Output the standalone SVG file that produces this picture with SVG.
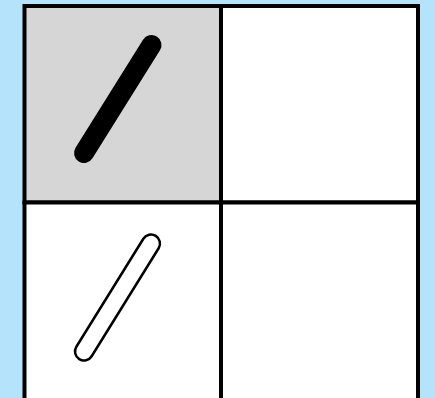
<svg xmlns="http://www.w3.org/2000/svg" width="435" height="398" viewBox="0 0 435 398">
  <defs>
    <style>
      .cell { stroke: #000; stroke-width: 4; }
      .stroke { stroke-linecap: round; fill: none; }
    </style>
  </defs>
  <rect x="0" y="0" width="435" height="398" fill="#b5e3fb"/>
  <g id="cell-top-left"><rect class="cell" x="24.5" y="6" width="196.5" height="196.5" fill="#d6d6d6"/></g>
  <g id="cell-top-right"><rect class="cell" x="221" y="6" width="197" height="196.5" fill="#fff"/></g>
  <g id="cell-bottom-left"><rect class="cell" x="24.5" y="202.5" width="196.5" height="200" fill="#fff"/></g>
  <g id="cell-bottom-right"><rect class="cell" x="221" y="202.5" width="197" height="200" fill="#fff"/></g>
  <g id="solid-stroke">
    <line class="stroke" x1="84" y1="153" x2="151.5" y2="45" stroke="#000" stroke-width="20"/>
  </g>
  <g id="outline-stroke">
    <line class="stroke" x1="84" y1="351.5" x2="151" y2="243.5" stroke="#000" stroke-width="20.5"/>
    <line class="stroke" x1="84" y1="351.5" x2="151" y2="243.5" stroke="#fff" stroke-width="15.5"/>
  </g>
</svg>
